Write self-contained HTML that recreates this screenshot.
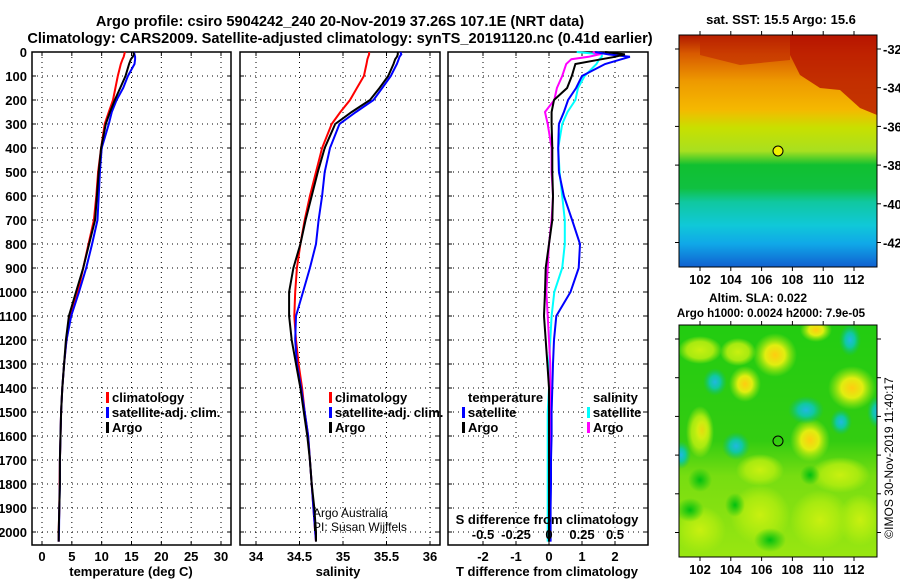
<!DOCTYPE html>
<html><head><meta charset="utf-8"><style>
html,body{margin:0;padding:0;background:#fff;}
svg{display:block;font-family:"Liberation Sans",sans-serif;}
.t{font-weight:bold;font-size:13px;fill:#000;}
.h{font-weight:bold;font-size:14.6px;fill:#000;}
</style></head><body>
<svg id="c" width="900" height="580" viewBox="0 0 900 580">
<defs>
<linearGradient id="sst" x1="0" y1="0" x2="0" y2="1">
<stop offset="0" stop-color="#b01800"/><stop offset="0.08" stop-color="#d85a00"/>
<stop offset="0.2" stop-color="#ee9a00"/><stop offset="0.32" stop-color="#f5b800"/>
<stop offset="0.4" stop-color="#c8e000"/><stop offset="0.5" stop-color="#a8e020"/>
<stop offset="0.56" stop-color="#10c030"/><stop offset="0.66" stop-color="#10c040"/>
<stop offset="0.72" stop-color="#10c8a0"/><stop offset="0.82" stop-color="#10c8d8"/>
<stop offset="0.9" stop-color="#10a8e8"/><stop offset="1" stop-color="#1060d0"/>
</linearGradient>
<linearGradient id="slab" x1="0" y1="0" x2="0" y2="1">
<stop offset="0" stop-color="#22cc11"/><stop offset="0.5" stop-color="#33cc11"/>
<stop offset="0.65" stop-color="#77dd11"/><stop offset="1" stop-color="#99e611"/>
</linearGradient>
<radialGradient id="yb"><stop offset="0" stop-color="#ffcc10"/><stop offset="0.45" stop-color="#e0ee10"/><stop offset="1" stop-color="#aaee10" stop-opacity="0"/></radialGradient>
<radialGradient id="lg"><stop offset="0" stop-color="#c8f010"/><stop offset="0.6" stop-color="#a8ea10"/><stop offset="1" stop-color="#a8ea10" stop-opacity="0"/></radialGradient>
<radialGradient id="cb"><stop offset="0" stop-color="#20b8e0"/><stop offset="0.45" stop-color="#10c8a0"/><stop offset="1" stop-color="#10c060" stop-opacity="0"/></radialGradient>
<radialGradient id="gb"><stop offset="0" stop-color="#00c010"/><stop offset="1" stop-color="#00c010" stop-opacity="0"/></radialGradient>
<clipPath id="m2"><rect x="679" y="325" width="198" height="232"/></clipPath>
</defs>
<text class="h" x="340" y="26" text-anchor="middle">Argo profile: csiro 5904242_240 20-Nov-2019 37.26S 107.1E (NRT data)</text>
<text class="h" x="340" y="43" text-anchor="middle">Climatology: CARS2009. Satellite-adjusted climatology: synTS_20191120.nc (0.41d earlier)</text>
<g id="p1"></g>
<g id="p2"></g>
<g id="p3"></g>

<g>
<text class="h" x="781" y="24" text-anchor="middle" style="font-size:13px">sat. SST: 15.5 Argo: 15.6</text>
<rect x="679" y="35" width="198" height="232" fill="url(#sst)"/>
<path d="M790 35 L877 35 L877 115 L860 108 L840 90 L820 88 L800 75 L790 55 Z" fill="#b81400" opacity="0.8"/>
<path d="M700 35 L790 35 L790 60 L740 65 L700 55 Z" fill="#c02800" opacity="0.6"/>
<circle cx="778" cy="151" r="5" fill="#f0f000" stroke="#000"/>
<rect x="679" y="35" width="198" height="232" fill="none" stroke="#000"/>
</g>
<g>
<text class="h" x="758" y="302" text-anchor="middle" style="font-size:12px">Altim. SLA: 0.022</text>
<text class="h" x="771" y="317" text-anchor="middle" style="font-size:11.6px">Argo h1000: 0.0024 h2000: 7.9e-05</text>
<rect x="679" y="325" width="198" height="232" fill="url(#slab)"/>
<g clip-path="url(#m2)">
<ellipse cx="700" cy="350" rx="22" ry="14" fill="url(#lg)"/>
<ellipse cx="700" cy="432" rx="14" ry="26" fill="url(#lg)"/>
<ellipse cx="760" cy="515" rx="30" ry="30" fill="url(#lg)"/>
<ellipse cx="820" cy="520" rx="30" ry="30" fill="url(#lg)"/>
<ellipse cx="700" cy="530" rx="26" ry="24" fill="url(#lg)"/>
<ellipse cx="860" cy="520" rx="22" ry="26" fill="url(#lg)"/>
<ellipse cx="840" cy="475" rx="30" ry="18" fill="url(#lg)"/>
<ellipse cx="760" cy="470" rx="24" ry="16" fill="url(#lg)"/>
<ellipse cx="738" cy="352" rx="18" ry="14" fill="url(#lg)"/>
<ellipse cx="775" cy="355" rx="22" ry="22" fill="url(#yb)"/>
<ellipse cx="745" cy="384" rx="16" ry="18" fill="url(#yb)"/>
<ellipse cx="816" cy="330" rx="16" ry="12" fill="url(#yb)"/>
<ellipse cx="810" cy="440" rx="20" ry="22" fill="url(#yb)"/>
<ellipse cx="852" cy="388" rx="24" ry="22" fill="url(#yb)"/>
<ellipse cx="702" cy="430" rx="10" ry="18" fill="url(#yb)" opacity="0.6"/>
<ellipse cx="806" cy="410" rx="18" ry="14" fill="url(#cb)"/>
<ellipse cx="715" cy="382" rx="12" ry="14" fill="url(#cb)"/>
<ellipse cx="841" cy="422" rx="11" ry="13" fill="url(#cb)"/>
<ellipse cx="736" cy="446" rx="14" ry="14" fill="url(#cb)"/>
<ellipse cx="850" cy="340" rx="11" ry="16" fill="url(#cb)"/>
<ellipse cx="877" cy="412" rx="10" ry="16" fill="url(#cb)"/>
<ellipse cx="681" cy="455" rx="10" ry="14" fill="url(#cb)"/>
<ellipse cx="700" cy="480" rx="12" ry="12" fill="url(#gb)"/>
<ellipse cx="690" cy="510" rx="14" ry="12" fill="url(#gb)"/>
<ellipse cx="770" cy="540" rx="16" ry="12" fill="url(#gb)"/>
<ellipse cx="810" cy="475" rx="10" ry="10" fill="url(#gb)"/>
<ellipse cx="735" cy="505" rx="10" ry="12" fill="url(#gb)"/>
</g>
<circle cx="778" cy="441" r="5" fill="none" stroke="#000"/>
<rect x="679" y="325" width="198" height="232" fill="none" stroke="#000"/>
</g>
<text x="893" y="458" font-size="12" text-anchor="middle" transform="rotate(-90 893 458)">©IMOS 30-Nov-2019 11:40:17</text>
<text x="313" y="517" font-size="12">Argo Australia</text>
<text x="313" y="531" font-size="12">PI: Susan Wijffels</text>
</svg>
<script>
// ---- data ----
const depthTicks=[0,100,200,300,400,500,600,700,800,900,1000,1100,1200,1300,1400,1500,1600,1700,1800,1900,2000];
const tTicks=[0,5,10,15,20,25,30];
const sTicks=[34,34.5,35,35.5,36];
const dtTicks=[-2,-1,0,1,2];
const dsTicks=[-0.5,-0.25,0,0.25,0.5];
const dsTickLabels=['-0.5','-0.25','0','0.25','0.5'];
const lats=[-32,-34,-36,-38,-40,-42];
const lons=[102,104,106,108,110,112];
const depths=[0,10,20,30,50,100,150,200,250,300,400,500,600,700,800,900,1000,1100,1200,1300,1400,1500,1600,1700,1800,1900,2000,2040];
const tArgo=[15.3,15.4,15.2,14.9,14.6,14.0,13.1,12.2,11.4,10.7,9.9,9.5,9.2,8.9,7.9,6.9,5.7,4.5,4.0,3.7,3.4,3.2,3.1,3.0,3.0,2.9,2.8,2.8];
const tClim=[13.9,13.8,13.7,13.5,13.2,12.7,12.3,11.9,11.2,10.5,9.9,9.4,9.1,8.7,7.8,6.9,6.0,4.8,4.1,3.7,3.4,3.2,3.1,3.0,2.95,2.9,2.8,2.8];
const tSat=[15.4,15.5,15.6,15.6,15.5,14.4,13.6,12.5,11.7,11.2,10.0,9.7,9.5,9.3,8.4,7.4,6.2,4.9,4.1,3.7,3.4,3.2,3.1,3.0,3.0,2.9,2.85,2.8];
const sArgo=[35.63,35.63,35.62,35.6,35.58,35.52,35.42,35.31,35.1,34.91,34.79,34.71,34.64,34.57,34.51,34.43,34.38,34.38,34.41,34.46,34.51,34.55,34.59,34.62,34.64,34.67,34.69,34.69];
const sClim=[35.3,35.3,35.29,35.28,35.27,35.24,35.16,35.08,34.97,34.87,34.76,34.69,34.62,34.56,34.51,34.47,34.45,34.44,34.46,34.49,34.53,34.56,34.6,34.62,34.64,34.66,34.68,34.69];
const sSat=[35.66,35.67,35.65,35.64,35.62,35.55,35.45,35.35,35.15,34.96,34.85,34.79,34.76,34.72,34.69,34.62,34.54,34.46,34.45,34.47,34.52,34.56,34.6,34.62,34.64,34.66,34.68,34.69];
const dtArgo=[1.7,2.3,2.0,1.6,0.8,0.69,0.55,0.15,0.08,0.08,0.1,0.1,0.12,0.1,0.0,-0.1,-0.12,-0.15,-0.1,-0.05,0,0,0,0,0,0,0,0];
const dtSat=[1.4,1.8,2.45,2.2,1.7,1.0,0.82,0.58,0.45,0.3,0.28,0.3,0.45,0.7,0.94,0.9,0.65,0.22,0.15,0.12,0.1,0.08,0.08,0.06,0.06,0.05,0.05,0.05];
const dsSat=[0.21,0.4,0.4,0.38,0.36,0.27,0.22,0.2,0.14,0.1,0.07,0.08,0.1,0.12,0.12,0.1,0.04,0.02,0.01,0.0,0.0,-0.01,-0.01,-0.01,-0.01,-0.01,-0.01,-0.01];
const dsArgo=[0.33,0.38,0.3,0.17,0.13,0.1,0.06,0.04,-0.03,-0.01,0.02,0.02,0.03,0.02,0.0,-0.01,-0.02,-0.01,0.0,0.01,0.01,0.01,0.01,0.01,0.01,0.01,0.01,0.01];
// ---- geometry ----
const NS='http://www.w3.org/2000/svg';
const Y0=52,Y1=545;
const yD=d=>Y0+d*0.24;
function mk(par,tag,at){const e=document.createElementNS(NS,tag);for(const k in at)e.setAttribute(k,at[k]);par.appendChild(e);return e;}
function frame(g,x0,x1,xs,xf,labels,showDepth){
  depthTicks.forEach(d=>{const y=yD(d);
    const l=mk(g,'line',{x1:x0,x2:x1,y1:y,y2:y,stroke:'#000','stroke-dasharray':'1 4'});
    
    
    mk(g,'line',{x1:x0,x2:x0+4,y1:y,y2:y,stroke:'#000'});mk(g,'line',{x1:x1-4,x2:x1,y1:y,y2:y,stroke:'#000'});
    if(showDepth){const t=mk(g,'text',{x:x0-5,y:y+5,'text-anchor':'end',class:'t'});t.textContent=d;
      
      }
  });
  xs.forEach((v,i)=>{const x=xf(v);
    const l=mk(g,'line',{x1:x,x2:x,y1:Y0,y2:Y1,stroke:'#000','stroke-dasharray':'1 4'});
    
    
    mk(g,'line',{x1:x,x2:x,y1:Y1-4,y2:Y1,stroke:'#000'});mk(g,'line',{x1:x,x2:x,y1:Y0,y2:Y0+4,stroke:'#000'});
    const t=mk(g,'text',{x:x,y:Y1+16,'text-anchor':'middle',class:'t'});t.textContent=labels[i];
    
    
  });
  mk(g,'rect',{x:x0,y:Y0,width:x1-x0,height:Y1-Y0,fill:'none',stroke:'#000','stroke-width':1.5});
}
function line(g,vals,xf,col,name){
  let d='';depths.forEach((dp,i)=>{d+=(i?'L':'M')+xf(vals[i]).toFixed(1)+' '+yD(dp).toFixed(1);});
  const p=mk(g,'path',{d:d,fill:'none',stroke:col,'stroke-width':2});
  
  
}
function leg(g,x,y,col,txt,name){
  mk(g,'rect',{x:x-6,y:y-10,width:3,height:11,fill:col});
  const t=mk(g,'text',{x:x,y:y,class:'t'});t.textContent=txt;
  
  
}
function label(g,x,y,txt,name){const t=mk(g,'text',{x:x,y:y,'text-anchor':'middle',class:'t'});t.textContent=txt;
  
  }
// panel 1
const p1=document.getElementById('p1');
const xT=v=>42+v*5.967;
frame(p1,32,231,tTicks,xT,tTicks,true);
line(p1,tClim,xT,'#f00','temp-climatology-line');
line(p1,tSat,xT,'#00f','temp-satellite-line');
line(p1,tArgo,xT,'#000','temp-argo-line');
leg(p1,112,402,'#f00','climatology','legend-climatology');
leg(p1,112,417,'#00f','satellite-adj. clim.','legend-satellite');
leg(p1,112,432,'#000','Argo','legend-argo');
label(p1,131,576,'temperature (deg C)','x-axis-title-temperature');
// panel 2
const p2=document.getElementById('p2');
const xS=v=>256+(v-34)*87;
frame(p2,240,440,sTicks,xS,['34','34.5','35','35.5','36'],false);
line(p2,sClim,xS,'#f00','sal-climatology-line');
line(p2,sSat,xS,'#00f','sal-satellite-line');
line(p2,sArgo,xS,'#000','sal-argo-line');
leg(p2,335,402,'#f00','climatology','legend-climatology-2');
leg(p2,335,417,'#00f','satellite-adj. clim.','legend-satellite-2');
leg(p2,335,432,'#000','Argo','legend-argo-2');
label(p2,338,576,'salinity','x-axis-title-salinity');
// panel 3
const p3=document.getElementById('p3');
const xDT=v=>549+v*33;
const xDS=v=>549+v*132;
frame(p3,448,648,dtTicks,xDT,dtTicks,false);
line(p3,dsSat,xDS,'#0ff','sdiff-satellite-line');
line(p3,dsArgo,xDS,'#f0f','sdiff-argo-line');
line(p3,dtSat,xDT,'#00f','tdiff-satellite-line');
line(p3,dtArgo,xDT,'#000','tdiff-argo-line');
const lt=mk(p3,'text',{x:468,y:402,class:'t'});lt.textContent='temperature';


leg(p3,468,417,'#00f','satellite','legend-t-satellite');
leg(p3,468,432,'#000','Argo','legend-t-argo');
const ls=mk(p3,'text',{x:593,y:402,class:'t'});ls.textContent='salinity';


leg(p3,593,417,'#0ff','satellite','legend-s-satellite');
leg(p3,593,432,'#f0f','Argo','legend-s-argo');
label(p3,547,524,'S difference from climatology','s-axis-title');
dsTicks.forEach((v,i)=>{label(p3,xDS(v),539,dsTickLabels[i],'s-tick-label');});
label(p3,547,576,'T difference from climatology','x-axis-title-tdiff');
// maps axes
const svg=document.getElementById('c');
function mapAxes(top,bot,lat0,showLat){
  lats.forEach(la=>{const y=lat0+(-32-la)*19.35;
    mk(svg,'line',{x1:877,x2:881,y1:y,y2:y,stroke:'#000'});mk(svg,'line',{x1:679,x2:675,y1:y,y2:y,stroke:'#000'});
    if(showLat){const t=mk(svg,'text',{x:883,y:y+5,class:'t'});t.textContent=la;
    
    }});
  lons.forEach(lo=>{const x=700+(lo-102)*15.4;
    mk(svg,'line',{x1:x,x2:x,y1:top,y2:top-4,stroke:'#000'});mk(svg,'line',{x1:x,x2:x,y1:bot,y2:bot+4,stroke:'#000'});
    const t=mk(svg,'text',{x:x,y:bot+17,'text-anchor':'middle',class:'t'});t.textContent=lo;
    
    });
}
mapAxes(35,267,49,true);
mapAxes(325,557,339,false);
</script>
</body></html>
